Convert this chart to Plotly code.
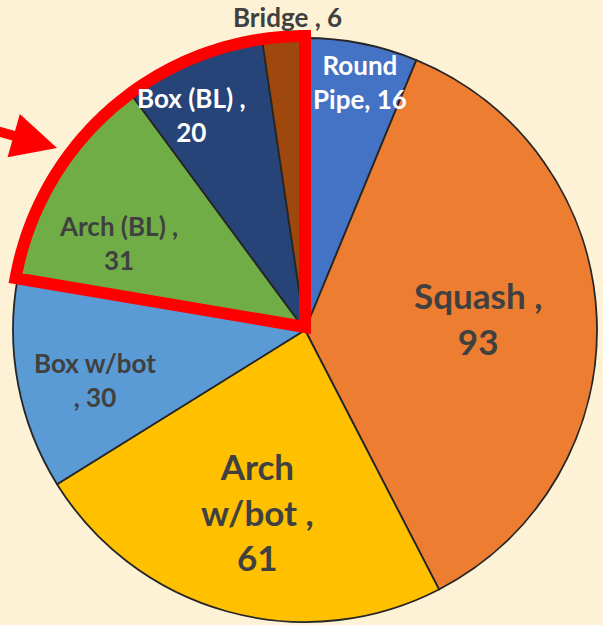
import math
import plotly.graph_objects as go

labels = ["Round Pipe", "Squash", "Arch w/bot", "Box w/bot", "Arch (BL)", "Box (BL)", "Bridge"]
values = [16, 93, 61, 30, 31, 20, 6]
colors = ["#4472C4", "#ED7D31", "#FFC000", "#5B9BD5", "#70AD47", "#264478", "#9E480E"]
label_text = ["Round<br>Pipe, 16", "Squash ,<br>93", "Arch<br>w/bot ,<br>61", "Box w/bot<br>, 30",
              "Arch (BL) ,<br>31", "Box (BL) ,<br>20", "Bridge , 6"]
highlight = ["Arch (BL)", "Box (BL)", "Bridge"]

W, H = 603, 625
CX, CY, R = 305, 330, 292
BG = "#FDF2D5"
DARK = "#404040"

fig = go.Figure()
fig.add_trace(go.Pie(
    labels=labels, values=values, sort=False, direction="clockwise", rotation=0,
    marker=dict(colors=colors, line=dict(color="#262626", width=1.8)),
    textinfo="none", hoverinfo="label+value", showlegend=False,
    domain=dict(x=[(CX - R) / W, (CX + R) / W], y=[(H - CY - R) / H, (H - CY + R) / H]),
))

# red outline around highlighted slices (angles from the data)
total = sum(values)
start_idx = labels.index(highlight[0])
a0 = sum(values[:start_idx]) / total * 2 * math.pi
a1 = 2 * math.pi
Rr = R + 2
pts = []
n = 80
for i in range(n + 1):
    a = a0 + (a1 - a0) * i / n
    pts.append((CX + Rr * math.sin(a), CY - Rr * math.cos(a)))
path = f"M {CX},{CY - 3} " + " ".join(f"L {x:.2f},{y:.2f}" for x, y in pts) + " Z"
fig.add_shape(type="path", path=path, xref="x", yref="y",
              line=dict(color="#FF0000", width=12), fillcolor="rgba(0,0,0,0)")

# labels
pos = {
    "Round Pipe": (360, 82, 26, "white"),
    "Squash": (478, 318, 35, DARK),
    "Arch w/bot": (257, 511, 35, DARK),
    "Box w/bot": (95, 380, 26, DARK),
    "Arch (BL)": (118, 243, 26, DARK),
    "Box (BL)": (191, 115, 26, "white"),
    "Bridge": (287, 17, 26, DARK),
}
for lab, txt in zip(labels, label_text):
    x, y, s, c = pos[lab]
    fig.add_annotation(x=x, y=y, xref="x", yref="y", text=f"<b>{txt}</b>", showarrow=False,
                       font=dict(family="Lato, Open Sans, sans-serif", size=s, color=c),
                       xanchor="center", yanchor="middle", align="center")

# arrow
fig.add_annotation(x=57, y=148, xref="x", yref="y", ax=-10, ay=129, axref="x", ayref="y",
                   text="", showarrow=True, arrowhead=2, arrowsize=0.9, arrowwidth=10,
                   arrowcolor="#FF0000", standoff=0)

fig.update_layout(
    width=W, height=H, margin=dict(l=0, r=0, t=0, b=0),
    paper_bgcolor=BG, plot_bgcolor="rgba(0,0,0,0)",
    xaxis=dict(range=[0, W], visible=False, fixedrange=True),
    yaxis=dict(range=[H, 0], visible=False, fixedrange=True),
)
fig.write_html("out.html", config={"displayModeBar": False},
               post_script="document.body.style.margin='0';document.body.style.background='" + BG + "';")
